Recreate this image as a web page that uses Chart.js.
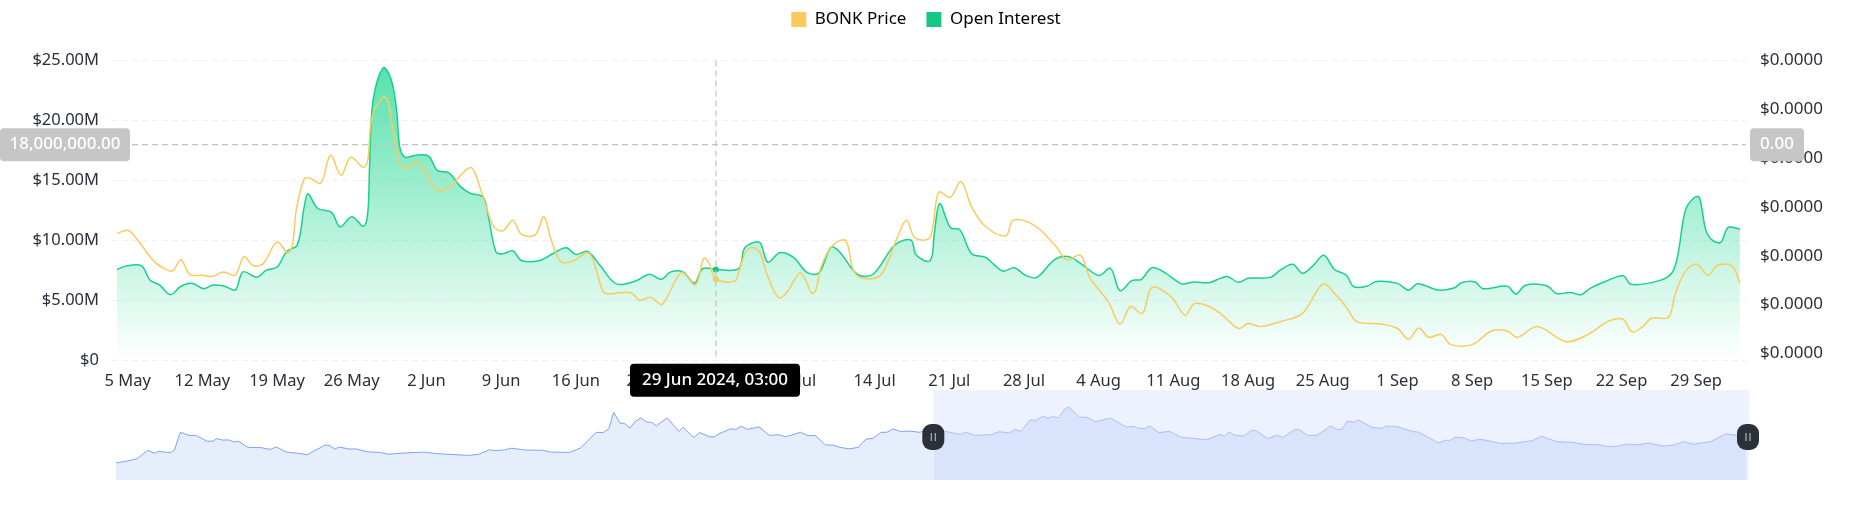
<!DOCTYPE html>
<html>
<head>
<meta charset="utf-8">
<title>BONK Price and Open Interest</title>
<script src="https://cdn.jsdelivr.net/npm/chart.js@4"></script>
<style>
  html, body { margin: 0; padding: 0; background: #fff; overflow: hidden; }
  #wrap { position: relative; width: 1852px; height: 525px; }
  canvas { position: absolute; left: 0; display: block; }
  #main { top: 0; z-index: 2; }
  #nav { top: 390px; z-index: 1; }
</style>
</head>
<body>
<div id="wrap">
  <canvas id="nav" width="1852" height="90"></canvas>
  <canvas id="main" width="1852" height="525"></canvas>
</div>
<script>
// days are counted from 4 May 2024
const tickDays = [1, 8, 15, 22, 29, 36, 43, 50, 57, 64, 71, 78, 85, 92, 99, 106, 113, 120, 127, 134, 141, 148];
const tickLabels = ['5 May', '12 May', '19 May', '26 May', '2 Jun', '9 Jun', '16 Jun', '23 Jun', '30 Jun', '7 Jul', '14 Jul',
    '21 Jul', '28 Jul', '4 Aug', '11 Aug', '18 Aug', '25 Aug', '1 Sep', '8 Sep', '15 Sep', '22 Sep', '29 Sep'];

// Open Interest, $M
const oiDays = [0, 0.9, 2.3, 3.1, 4, 5, 6, 7, 8.1, 9, 10.1, 11.1, 11.8, 13.1, 14, 15, 15.9, 16.9, 17.55, 17.9, 18.8, 20.1, 20.9, 22, 23.1, 23.5, 23.67, 24, 24.95, 25.7, 26.2, 26.5, 27, 27.9, 29.2, 30, 31.1, 32.2, 33.1, 34.3, 34.8, 35.5, 36.1, 37.1, 37.9, 39.6, 40.9, 42.1, 43, 44.1, 45.3, 46.8,
    48.6, 49.9, 51, 51.9, 53.05, 54.1, 54.9, 56.125, 58.25, 58.8, 59.7, 60.3, 61, 62.1, 63.4, 64.7, 65.8, 66.9, 67.7, 69.4, 70.85, 72.9, 74.4, 74.9, 76.2, 76.6, 77.1, 78.1, 79, 80.1, 81.4, 83, 84.1, 85.1, 86.2, 87.9, 89.2, 90.3, 92.05, 93.1, 94, 95.1, 96, 97, 98.3, 99.8, 100.9, 102.35,
    103.4, 104.1, 105.1, 106, 108.1, 109.04, 110.2, 111.1, 112.1, 113.1, 114.1, 115.2, 115.9, 117.2, 118, 120, 121.05, 121.9, 123.8, 125.3, 126, 127.25, 128, 130.3, 131.1, 132, 134, 134.9, 136.2, 137.2, 138.1, 139.6, 141.15, 141.9, 144.55, 145.7, 146.25, 147, 147.8, 148.3, 148.9, 149.5, 150.3, 151, 152.1];
const oiValues = [7.6, 7.9, 7.9, 6.7, 6.3, 5.5, 6.2, 6.45, 6, 6.3, 6.2, 5.9, 7.4, 6.95, 7.55, 7.8, 9.1, 9.65, 12.85, 13.9, 12.7, 12.35, 11.15, 12, 11.2, 12.3, 16.2, 21.7, 24.4, 23.4, 20.9, 17.8, 16.95, 17.1, 17.05, 15.85, 15.65, 14.5, 13.95, 13.65, 12, 9.1, 8.9, 9.15, 8.35, 8.35, 8.95, 9.4, 8.85, 9.1, 7.9, 6.4,
    6.64, 7.2, 6.78, 7.4, 7.4, 6.45, 7.67, 7.6, 7.67, 9.36, 9.86, 9.8, 8.2, 9, 8.6, 7.33, 7.33, 9.44, 9.08, 7.2, 7.2, 9.64, 10.05, 8.8, 8.33, 10.6, 13.1, 11.1, 10.9, 8.9, 8.6, 7.47, 7.75, 7.14, 6.94, 8.44, 8.67, 8.1, 7.1, 7.7, 5.83, 6.67, 6.78, 7.75, 7.28, 6.4, 6.56, 6.5,
    6.86, 7, 6.53, 6.86, 6.94, 7.56, 8.03, 7.28, 7.92, 8.78, 7.6, 7.14, 6.17, 6.22, 6.6, 6.44, 5.89, 6.42, 5.89, 6.05, 6.5, 6.58, 6, 6.2, 5.56, 6.28, 6.25, 5.6, 5.69, 5.5, 6.05, 6.64, 7.08, 6.36, 6.67, 7.28, 8.67, 12.55, 13.58, 13.6, 10.9, 10.05, 9.86, 11.1, 10.97];

// BONK price, millionths of a dollar
const priceDays = [0, 1.07, 1.8, 3.5, 4.8, 5.26, 6, 6.8, 7.9, 9, 10, 11.07, 11.9, 12.75, 13.7, 15, 16, 16.45, 16.8, 17.55, 18.1, 19.1, 20, 21, 21.9, 23.1, 23.5, 23.9, 24.95, 25.4, 25.9, 26.45, 27, 28.1, 28.85, 30, 31.3, 32.2, 33.1, 33.5, 34.2, 35.3, 36.15, 37.1, 37.9, 39.2, 40, 40.7, 41.6, 42.7, 44.2, 45, 45.7, 47.1,
    48.2, 49, 50, 51.1, 52.9, 54.2, 55, 55.5, 56.125, 57.9, 58.3, 59.1, 60.1, 61, 62, 62.7, 64, 64.55, 65.1, 65.5, 66, 67.1, 68.3, 69, 69.9, 71.6, 73.1, 74, 74.8, 76.2, 77, 78.1, 79.1, 80.1, 81.4, 83.3, 84, 86, 87.9, 89, 90.3, 91.2, 92.9, 94, 95, 96.1, 97, 98.8, 100.1, 100.9, 102,
    103.4, 105.1, 106, 107.15, 109, 111.1, 113, 114.1, 115.3, 116.2, 118.5, 120, 121.05, 122, 122.95, 124.1, 125, 127, 128.8, 130.3, 131.25, 133.1, 135.85, 137.95, 139.8, 141.15, 142, 143, 143.8, 145.4, 146.05, 147, 148.05, 149.1, 150, 151.35, 152.1];
const priceValues = [27.3, 27.6, 26.8, 24.4, 23.5, 23.5, 24.6, 23.1, 23, 22.9, 23.35, 23, 24.9, 24, 24.2, 26.4, 25.3, 26.2, 29.7, 32.9, 32.95, 32.45, 35.3, 33.25, 35.1, 34.05, 34.8, 39.2, 41.25, 40.8, 37.55, 34.5, 33.9, 34.55, 33.6, 31.7, 32.1, 33.25, 34.05, 33.6, 31.4, 28, 27.55, 28.65, 27.2, 27.15, 29, 26.6, 24.4, 24.45, 25.3, 23.2, 21.2, 21.2,
    21.2, 20.45, 20.75, 20.05, 23.3, 22, 24.75, 24.2, 22.6, 22.4, 23.5, 25.65, 25.6, 22.85, 20.7, 21.15, 23.25, 22.5, 21.15, 21.5, 23.9, 26.1, 26.55, 23.55, 22.7, 23.05, 26.8, 28.65, 26.8, 26.9, 31.5, 31, 32.6, 30, 28, 27.05, 28.65, 28.1, 26.1, 24.6, 25.05, 22.7, 20.3, 18, 19.8, 19.1, 21.75, 20.8, 18.9, 20.05, 19.95,
    19.1, 17.55, 18.05, 17.75, 18.25, 19.1, 22.1, 21.15, 19.6, 18.25, 18, 17.55, 16.45, 17.6, 16.65, 16.95, 15.9, 15.9, 17.3, 17.3, 16.65, 17.75, 16.2, 17, 18.3, 18.5, 17.2, 17.75, 18.6, 18.7, 21.15, 23.4, 24.15, 23, 24, 24, 22.2];
const priceTicks = [15, 20, 25, 30, 35, 40, 45];

// navigator strip, days from the start of the full history
const navDays = [0, 2.1, 4, 6, 7.2, 8, 10.3, 11, 12.1, 13.9, 15, 17.2, 18.3, 19, 20.1, 21.1, 22.2, 23.1, 24.8, 27.3, 29, 30.2, 32.1, 34.3, 36, 39.3, 40.1, 41.2, 42, 44, 45.1, 47.4, 49.6, 51.3, 55.2, 58.3, 60.2, 66.4, 68.4, 70.3, 71.4, 73.1, 74.5, 77, 80.3, 82, 85.4, 87.4, 88.7, 90.4, 91.8, 92.8, 93.7, 94.9, 95.8, 96.8, 97.7, 98.8, 99.9, 100.8, 101.8, 103.8, 106, 106.8, 108.3, 108.8, 109.9, 111.8, 112.7, 113.9, 115.8, 116.6, 117.8, 118.9, 121.1, 123, 124.7, 126.1, 128.9, 130.3, 131.7, 133.6, 135.1, 136.2, 138.1, 139.8, 141.2, 142.6, 144, 145.1, 146.3, 147.7, 149.6, 151.3,
    153.9, 156.4, 159, 160.1, 161.7, 164.8, 166.3, 168.2, 169.3, 170.4, 172.1, 173.2, 174.6, 175.5, 176.3, 177.5, 178.6, 179.4, 181.4, 182.8, 184.5, 187.2, 190.3, 191.5, 192.6, 193.9, 194.6, 196.4, 198.4, 200.7, 202.9, 205.4, 207.9, 208.7, 209.6, 210.7, 212.4, 213.8, 214.7, 216.9, 218.6, 219.7, 222, 222.7, 224.4, 226.2, 228.7, 229.8, 230.9, 231.8, 233.1, 233.9, 236.5, 238.2, 239.3, 241, 244.3, 245.2, 249, 250.5, 251.1, 252.2, 253.9, 255.3, 256.7, 257.8, 260.6, 263.4, 266.7, 268.4, 271.2, 274, 276.8, 279.1, 280.7, 282.4, 284.7, 286.3, 288.6, 291.4, 293.1, 295.3, 297, 300.3, 303.1, 305.4, 307];
const navValues = [5.67, 6.33, 7.1, 9.9, 8.9, 9.55, 9.1, 10, 15.9, 14.8, 14.9, 12.9, 13, 13.8, 13.3, 13.4, 12.7, 12.9, 10.9, 10.8, 10.2, 11, 9.3, 8.9, 8.4, 11.6, 11.6, 10.3, 11, 10.3, 10.4, 9.4, 9.2, 8.6, 9.1, 9.3, 8.8, 8.2, 8.6, 10.1, 9.8, 10, 10.6, 10, 9.9, 9.3, 9.2, 10.6, 12.8, 15.9, 15.8, 17.1, 22.6, 19, 18.8, 17.3, 19.4, 20.7, 19.3, 19.2, 18.1, 20.7, 16.2, 17.6, 14.9, 14.2, 15.8, 14.4, 14.4, 15.7, 17.1, 16.8, 17.9, 16.9, 17.7, 14.9, 15.1, 14.4, 15.9, 14.8, 14.8, 11.7, 11.6, 10.9, 10.4, 10.9, 13.6, 13.9, 15.9, 15.9, 17, 16.2, 16.3, 15.9,
    17.2, 16.1, 15.2, 15.9, 14.9, 15.1, 16.1, 15.7, 16.8, 16.2, 20, 19.9, 21.3, 20.6, 21.1, 20.8, 23.6, 24.3, 21, 20.9, 19.4, 20.7, 17.6, 17.9, 17.2, 17.2, 18.1, 15.8, 16.2, 14.2, 13.9, 13.4, 15.2, 14.6, 16, 14.9, 14.7, 16.6, 16.4, 13.8, 15, 14.2, 16.8, 16.9, 14.9, 14.9, 18, 16.9, 16.9, 19.6, 19.3, 20, 17.6, 17.2, 18, 17.9, 16.1, 16, 12.4, 13.3, 13.1, 14.3, 14, 13, 13.6, 13.3, 12.2, 12.3, 13.1, 14.6, 12.8, 12.6, 11.8, 11.8, 11.2, 11.2, 12, 11.7, 12.3, 11.3, 11.6, 12.8, 11.9, 12.8, 15.4, 14.9, 15];
const navSelStart = 153.9;

const hoverDay = 56.125;
const hoverOi = 18;
const hoverOiLabel = '18,000,000.00';
const hoverPriceLabel = '0.00';
const hoverDateLabel = '29 Jun 2024, 03:00';

const FONT = '"Noto Sans", sans-serif';
const TEXT = '#2b2f3a';
const GREEN = '#16c784';
const LINE_GREEN = '#17d18b';
const YELLOW = '#f8cb5c';
const toPoints = (xs, ys) => xs.map((x, i) => ({ x, y: ys[i] }));

function label(ctx, text, x0, x1, y0, y1, bg) {
    ctx.fillStyle = bg;
    ctx.beginPath();
    ctx.roundRect(x0, y0, x1 - x0, y1 - y0, 4);
    ctx.fill();
    ctx.fillStyle = '#fff';
    ctx.font = '500 17px ' + FONT;
    ctx.textAlign = 'center';
    ctx.textBaseline = 'middle';
    ctx.fillText(text, (x0 + x1) / 2, (y0 + y1) / 2);
}

const crosshair = {
    id: 'crosshair',
    afterLayout(chart) { chart.legend.top = -9; },  // legend sits above its usual slot
    afterDraw(chart) {
        const { ctx, chartArea: a, scales } = chart;
        const x = scales.x.getPixelForValue(hoverDay);
        const y = scales.y.getPixelForValue(hoverOi);
        ctx.save();
        ctx.strokeStyle = '#c4c4c4';
        ctx.lineWidth = 1.2;
        ctx.setLineDash([6, 4]);
        ctx.beginPath();
        ctx.moveTo(x, a.top);
        ctx.lineTo(x, a.bottom);
        ctx.moveTo(a.left, y);
        ctx.lineTo(a.right, y);
        ctx.stroke();
        ctx.setLineDash([]);
        label(ctx, hoverOiLabel, 0, 130, y - 16.5, y + 16.5, '#c6c6c6');
        label(ctx, hoverPriceLabel, 1750, 1804, y - 16.5, y + 16.5, '#c6c6c6');
        label(ctx, hoverDateLabel, 630, 800, a.bottom + 3, a.bottom + 36, '#000');
        ctx.restore();
    }
};

new Chart(document.getElementById('main'), {
    type: 'line',
    data: {
        datasets: [
            {
                label: 'BONK Price',
                data: toPoints(priceDays, priceValues),
                yAxisID: 'y1',
                borderColor: YELLOW,
                backgroundColor: YELLOW,
                borderWidth: 1.5,
                tension: 0.35,
                pointRadius: c => (c.raw && c.raw.x === hoverDay ? 3 : 0),
                pointBorderWidth: 0,
                fill: false
            },
            {
                label: 'Open Interest',
                data: toPoints(oiDays, oiValues),
                yAxisID: 'y',
                borderColor: LINE_GREEN,
                backgroundColor: c => {
                    if (c.type !== 'dataset') return GREEN;
                    const g = c.chart.ctx.createLinearGradient(0, 68, 0, 360);
                    g.addColorStop(0, 'rgba(24,214,142,0.72)');
                    g.addColorStop(1, 'rgba(24,214,142,0)');
                    return g;
                },
                borderWidth: 1.5,
                tension: 0.35,
                pointRadius: c => (c.raw && c.raw.x === hoverDay ? 3 : 0),
                pointBackgroundColor: GREEN,
                pointBorderWidth: 0,
                fill: 'origin'
            }
        ]
    },
    options: {
        responsive: false,
        animation: false,
        events: [],
        layout: { padding: { top: 13.6 } },
        plugins: {
            tooltip: { enabled: false },
            legend: {
                position: 'top',
                labels: {
                    boxWidth: 15,
                    boxHeight: 15,
                    padding: 20,
                    color: '#3a3f4b',
                    font: { family: FONT, size: 17 },
                    generateLabels: chart => chart.data.datasets.map((d, i) => ({
                        text: d.label, fillStyle: i ? GREEN : YELLOW, strokeStyle: 'transparent', lineWidth: 0, datasetIndex: i
                    }))
                }
            }
        },
        scales: {
            x: {
                type: 'linear',
                min: -0.47,
                max: 152.67,
                grid: { display: false },
                border: { display: false },
                afterBuildTicks: s => { s.ticks = tickDays.map(value => ({ value })); },
                afterFit: s => { s.height = 164.3; },
                ticks: {
                    autoSkip: false,
                    maxRotation: 0,
                    padding: 3,
                    color: TEXT,
                    font: { family: FONT, size: 16.5 },
                    callback: v => tickLabels[tickDays.indexOf(v)]
                }
            },
            y: {
                position: 'left',
                min: 0,
                max: 25,
                grid: { color: '#eff2f5', drawTicks: false },
                border: { display: false, dash: [6, 4] },
                afterFit: s => { s.width = 112; },
                ticks: {
                    stepSize: 5,
                    padding: 13,
                    color: TEXT,
                    font: { family: FONT, size: 16.5 },
                    callback: v => (v === 0 ? '$0' : '$' + v.toFixed(2) + 'M')
                }
            },
            y1: {
                position: 'right',
                min: 14.25,
                max: 45,
                grid: { display: false },
                border: { display: false },
                afterBuildTicks: s => { s.ticks = priceTicks.map(value => ({ value })); },
                afterFit: s => { s.width = 106; },
                ticks: {
                    padding: 6,
                    color: TEXT,
                    font: { family: FONT, size: 17 },
                    callback: v => '$' + (v / 1e6).toFixed(4)
                }
            }
        }
    },
    plugins: [crosshair]
});

// navigator strip below the main chart
const navWindow = {
    id: 'navWindow',
    beforeDatasetsDraw(chart) {
        const { ctx, chartArea: a, scales } = chart;
        const x0 = scales.x.getPixelForValue(navSelStart);
        ctx.fillStyle = '#eef2fe';
        ctx.fillRect(x0, a.top, a.right - x0, a.bottom - a.top);
    },
    afterDraw(chart) {
        const { ctx, chartArea: a, scales } = chart;
        [scales.x.getPixelForValue(navSelStart), a.right - 1].forEach(x => {
            ctx.fillStyle = '#2c3038';
            ctx.beginPath();
            ctx.roundRect(x - 11, 34, 22, 26, 9);
            ctx.fill();
            ctx.strokeStyle = '#c9ccd2';
            ctx.lineWidth = 1;
            ctx.beginPath();
            ctx.moveTo(x - 2, 43);
            ctx.lineTo(x - 2, 51);
            ctx.moveTo(x + 2, 43);
            ctx.lineTo(x + 2, 51);
            ctx.stroke();
        });
    }
};

new Chart(document.getElementById('nav'), {
    type: 'line',
    data: {
        datasets: [{
            data: toPoints(navDays, navValues),
            borderWidth: 1,
            borderColor: '#7fa3f5',
            backgroundColor: '#e6edfb',
            pointRadius: 0,
            tension: 0,
            fill: 'origin',
            segment: {
                borderColor: c => (c.p0.parsed.x >= navSelStart ? '#a9c1f7' : '#7fa3f5'),
                backgroundColor: c => (c.p0.parsed.x >= navSelStart ? '#d9e3fc' : '#e6edfb')
            }
        }]
    },
    options: {
        responsive: false,
        animation: false,
        events: [],
        layout: { padding: { left: 116, right: 103 } },
        plugins: { legend: { display: false }, tooltip: { enabled: false } },
        scales: {
            x: { type: 'linear', min: 0, max: 307.5, display: false },
            y: { min: 0, max: 30, display: false }
        }
    },
    plugins: [navWindow]
});
</script>
</body>
</html>
